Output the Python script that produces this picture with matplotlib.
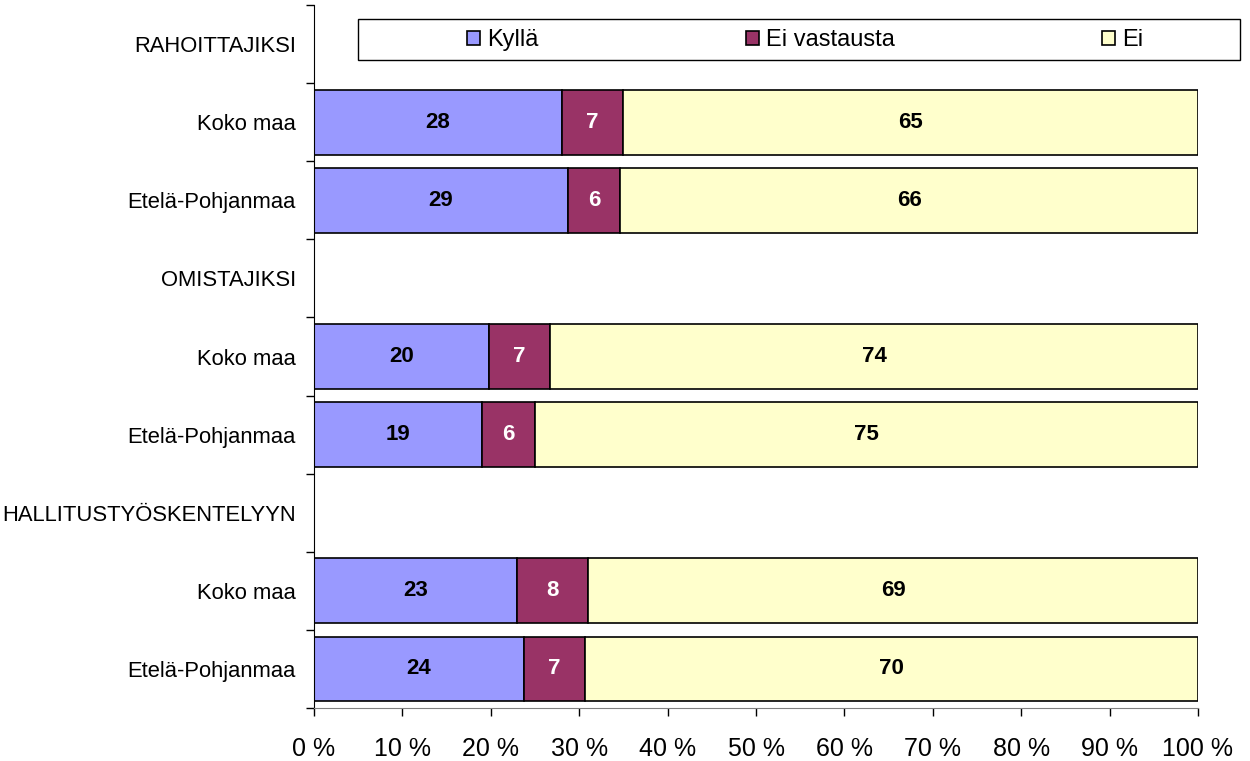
import matplotlib
matplotlib.use("Agg")
import matplotlib.pyplot as plt
import numpy as np
from matplotlib.patches import Rectangle, Patch

plt.rcParams['font.family'] = ['Liberation Sans', 'DejaVu Sans']

categories = ["RAHOITTAJIKSI", "Koko maa", "Etelä-Pohjanmaa",
              "OMISTAJIKSI", "Koko maa", "Etelä-Pohjanmaa",
              "HALLITUSTYÖSKENTELYYN", "Koko maa", "Etelä-Pohjanmaa"]
series_names = ["Kyllä", "Ei vastausta", "Ei"]
kylla = [0, 28, 29, 0, 20, 19, 0, 23, 24]
ei_vastausta = [0, 7, 6, 0, 7, 6, 0, 8, 7]
ei = [0, 65, 66, 0, 74, 75, 0, 69, 70]
colors = ["#9999FF", "#993366", "#FFFFCC"]
label_colors = ["black", "white", "black"]
xtick_vals = list(range(0, 101, 10))
xtick_labels = [f"{v} %" for v in xtick_vals]

raw = np.array([kylla, ei_vastausta, ei], dtype=float)
totals = raw.sum(axis=0)
pct = np.where(totals > 0, raw / np.where(totals > 0, totals, 1) * 100, 0)

fig = plt.figure(figsize=(12.5, 7.61), dpi=100)
ax = fig.add_axes([0.2512, 0.0696, 0.7072, 0.9238])

y = np.arange(len(categories))
left = np.zeros(len(categories))
for i, name in enumerate(series_names):
    has = totals > 0
    bars = ax.barh(y[has], pct[i][has], left=left[has], height=0.83,
                   color=colors[i], edgecolor="black", linewidth=1.2, label=name)
    labs = [f"{int(v)}" for v in raw[i][has]]
    ax.bar_label(bars, labels=labs, label_type="center", color=label_colors[i],
                 fontsize=16, fontweight="bold")
    left = left + pct[i]

ax.set_xlim(0, 100)
ax.set_ylim(len(categories) - 0.5, -0.5)
ax.set_xticks(xtick_vals)
ax.set_xticklabels(xtick_labels, fontsize=18)
ax.set_yticks(y)
ax.set_yticklabels(categories, fontsize=15.8)
ax.set_yticks(np.arange(-0.5, len(categories), 1), minor=True)
ax.tick_params(axis="y", which="major", length=0, pad=13)
ax.tick_params(axis="y", which="minor", length=6, width=1, direction="out")
ax.tick_params(axis="x", which="major", length=6, width=1, direction="out", pad=15)
for s in ["top", "right"]:
    ax.spines[s].set_visible(False)
ax.spines["bottom"].set_color("#808080")
ax.spines["left"].set_color("black")

# legend frame
fig.add_artist(Rectangle((358 / 1250, 1 - 60 / 761), (1240 - 358) / 1250, 41 / 761,
                         transform=fig.transFigure, facecolor="white",
                         edgecolor="black", linewidth=1.0))
handles = [Patch(facecolor=c, edgecolor="black", linewidth=1.2) for c in colors]
fig.legend(handles, series_names, loc="center", bbox_to_anchor=(0.644, 0.947),
           ncol=3, frameon=False, fontsize=17, handlelength=0.55, handleheight=0.55,
           handletextpad=0.3, columnspacing=8.77)

fig.savefig("out.png", dpi=100)
